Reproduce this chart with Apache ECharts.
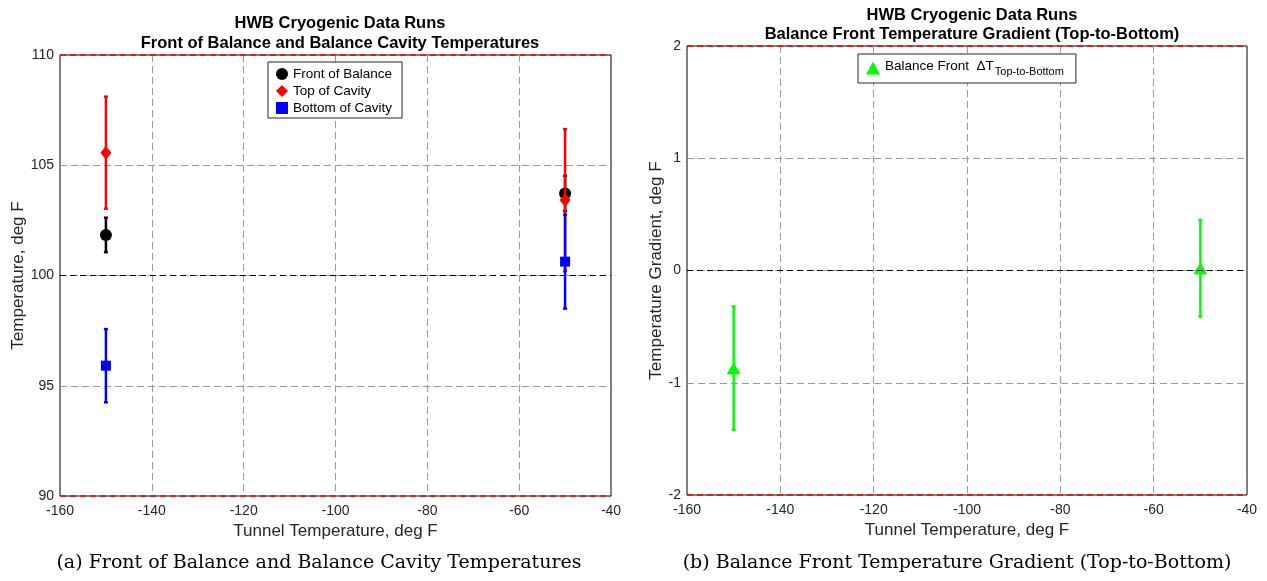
<!DOCTYPE html>
<html>
<head>
<meta charset="utf-8">
<script src="https://cdn.jsdelivr.net/npm/echarts@6/dist/echarts.min.js"></script>
<style>
html,body{margin:0;padding:0;background:#fff;}
#chart{width:1267px;height:581px;}
</style>
</head>
<body>
<div id="chart"></div>
<script>
// ---- data ----
const tunnelTemp = [-150, -50];
const frontBalance = [101.84, 103.72];
const frontBalanceErr = [0.78, 0.80];
const topCavity = [105.57, 103.42];
const topCavityErr = [2.54, 3.22];
const bottomCavity = [95.91, 100.63];
const bottomCavityErr = [1.66, 2.13];
const gradient = [-0.87, 0.02];
const gradientErr = [0.55, 0.43];

const xMin = -160, xMax = -40, xStep = 20;
const tempMin = 90, tempMax = 110, tempStep = 5;
const gradMin = -2, gradMax = 2, gradStep = 1;
const tempRefLines = [90, 100, 110];
const gradRefLines = [-2, 0, 2];

const titleLeft = ['HWB Cryogenic Data Runs', 'Front of Balance and Balance Cavity Temperatures'];
const titleRight = ['HWB Cryogenic Data Runs', 'Balance Front Temperature Gradient (Top-to-Bottom)'];
const captionLeft = '(a) Front of Balance and Balance Cavity Temperatures';
const captionRight = '(b) Balance Front Temperature Gradient (Top-to-Bottom)';
const xName = 'Tunnel Temperature, deg F';
const yNameLeft = 'Temperature, deg F';
const yNameRight = 'Temperature Gradient, deg F';
const legendLeftNames = ['Front of Balance', 'Top of Cavity', 'Bottom of Cavity'];
const legendRightName = 'Balance Front \u0394T';
const legendRightSub = 'Top-to-Bottom';

// ---- build ----
const SANS = 'Liberation Sans';
const SERIF = 'DejaVu Serif';
const chart = echarts.init(document.getElementById('chart'), null, {renderer: 'canvas'});

function zip(xs, ys, es) { return xs.map((x, i) => [x, ys[i], es[i]]); }

function errSeries(name, gi, data, color, z) {
  return {
    type: 'custom', name: name + ' err', xAxisIndex: gi, yAxisIndex: gi, z: z,
    silent: true, legendHoverLink: false,
    data: data,
    encode: {x: 0, y: 1},
    renderItem: function (params, api) {
      const x = api.value(0), m = api.value(1), e = api.value(2);
      const top = api.coord([x, m + e]);
      const bot = api.coord([x, m - e]);
      const w = 2;
      const st = {stroke: color, lineWidth: 2.5};
      return {
        type: 'group',
        children: [
          {type: 'line', shape: {x1: top[0], y1: top[1], x2: bot[0], y2: bot[1]}, style: st},
          {type: 'line', shape: {x1: top[0] - w, y1: top[1], x2: top[0] + w, y2: top[1]}, style: st},
          {type: 'line', shape: {x1: bot[0] - w, y1: bot[1], x2: bot[0] + w, y2: bot[1]}, style: st}
        ]
      };
    }
  };
}

function markSeries(name, gi, data, color, symbol, size, z) {
  return {
    type: 'scatter', name: name, xAxisIndex: gi, yAxisIndex: gi, z: z,
    symbol: symbol, symbolSize: size,
    itemStyle: {color: color, opacity: 1},
    data: data.map(d => [d[0], d[1]])
  };
}

function refSeries(gi, lines, mid) {
  return {
    type: 'line', xAxisIndex: gi, yAxisIndex: gi, data: [], z: 1, silent: true,
    markLine: {
      silent: true, symbol: 'none', label: {show: false}, animation: false,
      data: lines.map(v => ({
        yAxis: v,
        lineStyle: {color: v === mid ? '#000000' : '#ff0000', type: [6, 4], width: v === mid ? 1 : 1.5}
      }))
    }
  };
}

const splitStyle = {show: true, showMinLine: false, showMaxLine: false,
  lineStyle: {color: '#9a9a9a', type: [7, 4], width: 1}};
const axisLabelStyle = {fontFamily: SANS, fontSize: 14, color: '#262626'};
const nameStyle = {fontFamily: SANS, fontSize: 17, color: '#262626'};

function xAxisDef(gi) {
  return {
    type: 'value', gridIndex: gi, min: xMin, max: xMax, interval: xStep,
    axisLine: {show: false}, axisTick: {show: false},
    axisLabel: Object.assign({margin: 8}, axisLabelStyle),
    splitLine: splitStyle,
    name: xName, nameLocation: 'middle', nameGap: 23, nameTextStyle: nameStyle
  };
}
function yAxisDef(gi, mn, mx, st, ng, nm) {
  return {
    type: 'value', gridIndex: gi, min: mn, max: mx, interval: st,
    axisLine: {show: false}, axisTick: {show: false},
    axisLabel: Object.assign({margin: 6}, axisLabelStyle),
    splitLine: splitStyle,
    name: nm, nameLocation: 'middle', nameGap: ng, nameTextStyle: nameStyle
  };
}

const option = {
  backgroundColor: '#ffffff',
  animation: false,
  title: [
    {text: titleLeft.join('\n'), left: 335, top: 8, textAlign: 'center',
     textStyle: {fontFamily: SANS, fontSize: 16.5, fontWeight: 'bold', color: '#000', lineHeight: 20}},
    {text: titleRight.join('\n'), left: 967, top: 1, textAlign: 'center',
     textStyle: {fontFamily: SANS, fontSize: 16.5, fontWeight: 'bold', color: '#000', lineHeight: 19}},
    {text: captionLeft, left: 314, top: 549, textAlign: 'center',
     textStyle: {fontFamily: SERIF, fontSize: 19, fontWeight: 'normal', color: '#000'}},
    {text: captionRight, left: 952, top: 549, textAlign: 'center',
     textStyle: {fontFamily: SERIF, fontSize: 19, fontWeight: 'normal', color: '#000'}}
  ],
  grid: [
    {left: 60, top: 55, width: 551, height: 441, show: true, borderColor: '#000', borderWidth: 1, backgroundColor: 'transparent'},
    {left: 687, top: 46, width: 560, height: 449, show: true, borderColor: '#000', borderWidth: 1, backgroundColor: 'transparent'}
  ],
  xAxis: [xAxisDef(0), xAxisDef(1)],
  yAxis: [
    yAxisDef(0, tempMin, tempMax, tempStep, 33, yNameLeft),
    yAxisDef(1, gradMin, gradMax, gradStep, 22, yNameRight)
  ],
  legend: [
    {
      data: [
        {name: legendLeftNames[0], icon: 'circle'},
        {name: legendLeftNames[1], icon: 'diamond'},
        {name: legendLeftNames[2], icon: 'rect'}
      ],
      orient: 'vertical', left: 268, top: 62,
      itemWidth: 12, itemHeight: 12, itemGap: 3,
      padding: [5, 10, 3, 8],
      borderColor: '#262626', borderWidth: 1, backgroundColor: '#fff',
      textStyle: {fontFamily: SANS, fontSize: 13.5, color: '#000', lineHeight: 12},
      selectedMode: false
    },
    {
      data: [{name: legendRightName, icon: 'triangle'}],
      left: 858, top: 54,
      itemWidth: 14, itemHeight: 13,
      padding: [4, 12, 4, 8],
      borderColor: '#262626', borderWidth: 1, backgroundColor: '#fff',
      formatter: function (n) { return '{a|' + n.replace('\u0394', ' \u0394') + '}{b|' + legendRightSub + '}'; },
      textStyle: {
        fontFamily: SANS, fontSize: 13.5, color: '#000',
        rich: {
          a: {fontFamily: SANS, fontSize: 13.5, color: '#000', lineHeight: 18, verticalAlign: 'top', padding: [0, 0, 6, 0]},
          b: {fontFamily: SANS, fontSize: 11, color: '#000', lineHeight: 18, verticalAlign: 'bottom', padding: [8, 0, 0, 1]}
        }
      },
      selectedMode: false
    }
  ],
  series: [
    refSeries(0, tempRefLines, 100),
    refSeries(1, gradRefLines, 0),
    errSeries(legendLeftNames[0], 0, zip(tunnelTemp, frontBalance, frontBalanceErr), '#000000', 2),
    markSeries(legendLeftNames[0], 0, zip(tunnelTemp, frontBalance, frontBalanceErr), '#000000', 'circle', 12, 3),
    errSeries(legendLeftNames[1], 0, zip(tunnelTemp, topCavity, topCavityErr), '#ff0000', 4),
    markSeries(legendLeftNames[1], 0, zip(tunnelTemp, topCavity, topCavityErr), '#ff0000', 'diamond', [11, 14], 5),
    errSeries(legendLeftNames[2], 0, zip(tunnelTemp, bottomCavity, bottomCavityErr), '#0000ff', 6),
    markSeries(legendLeftNames[2], 0, zip(tunnelTemp, bottomCavity, bottomCavityErr), '#0000ff', 'rect', 10, 7),
    errSeries(legendRightName, 1, zip(tunnelTemp, gradient, gradientErr), '#00ff00', 2),
    markSeries(legendRightName, 1, zip(tunnelTemp, gradient, gradientErr), '#00ff00', 'triangle', [14, 12], 3)
  ]
};
chart.setOption(option);
</script>
</body>
</html>
